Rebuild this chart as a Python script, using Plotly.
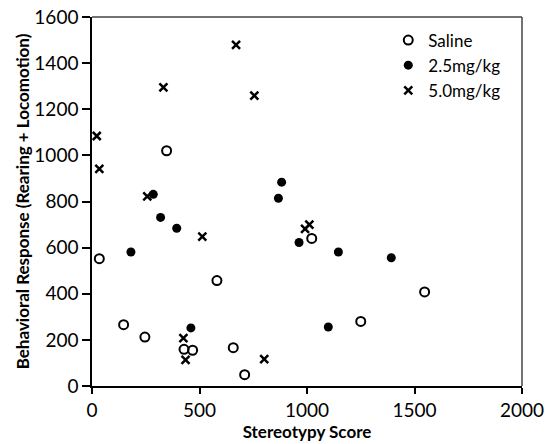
import plotly.graph_objects as go

saline_x = [34, 147, 246, 347, 428, 468, 581, 657, 710, 1022, 1250, 1547]
saline_y = [552, 266, 212, 1020, 159, 155, 457, 166, 49, 640, 280, 408]

mg25_x = [181, 285, 319, 394, 460, 867, 882, 963, 1099, 1146, 1392]
mg25_y = [581, 831, 731, 684, 252, 814, 884, 622, 256, 581, 556]

mg50_x = [22, 34, 257, 332, 670, 755, 513, 425, 435, 801, 991, 1011]
mg50_y = [1084, 941, 822, 1295, 1479, 1259, 648, 208, 113, 117, 681, 700]

x_ticks = [0, 500, 1000, 1500, 2000]
y_ticks = [0, 200, 400, 600, 800, 1000, 1200, 1400, 1600]

FONT = "Lato, 'Open Sans', sans-serif"

fig = go.Figure()
fig.add_trace(go.Scatter(
    x=saline_x, y=saline_y, mode="markers", name="Saline",
    marker=dict(symbol="circle-open", size=9, color="black", line=dict(width=2, color="black")),
))
fig.add_trace(go.Scatter(
    x=mg25_x, y=mg25_y, mode="markers", name="2.5mg/kg",
    marker=dict(symbol="circle", size=9, color="black"),
))
fig.add_trace(go.Scatter(
    x=mg50_x, y=mg50_y, mode="markers", name="5.0mg/kg",
    marker=dict(symbol="x-thin", size=8, color="black", line=dict(width=2.5, color="black")),
))

fig.update_layout(
    width=549, height=444,
    margin=dict(l=92, r=27, t=17, b=58),
    paper_bgcolor="white", plot_bgcolor="white",
    font=dict(family=FONT, size=19, color="black"),
    showlegend=True,
    legend=dict(x=0.689, y=0.985, xanchor="left", yanchor="top",
                font=dict(size=17, color="black"), itemwidth=30,
                bgcolor="rgba(0,0,0,0)", tracegroupgap=0),
    xaxis=dict(
        range=[0, 2000], tickvals=x_ticks, ticks="outside", ticklen=6, tickwidth=1.5,
        tickcolor="black", showgrid=False, zeroline=False, automargin=False,
        showline=True, linecolor="black", linewidth=1.5, mirror=False,
        title=dict(text="<b>Stereotypy Score</b>", font=dict(size=17), standoff=6),
    ),
    yaxis=dict(
        range=[0, 1600], tickvals=y_ticks, ticks="outside", ticklen=8, tickwidth=1.5,
        tickcolor="black", showgrid=False, zeroline=False, automargin=False,
        showline=True, linecolor="black", linewidth=1.5, mirror=False,
        title=dict(text="<b>Behavioral Response (Rearing + Locomotion)</b>", font=dict(size=17), standoff=0),
    ),
    shapes=[
        dict(type="line", xref="paper", yref="paper", x0=0, x1=1, y0=1, y1=1,
             line=dict(color="#444444", width=1.5)),
        dict(type="line", xref="paper", yref="paper", x0=1, x1=1, y0=0, y1=1,
             line=dict(color="#444444", width=1.5)),
    ],
)

fig.write_html("out.html", config={"displayModeBar": False},
               post_script="document.body.style.margin='0px';")
